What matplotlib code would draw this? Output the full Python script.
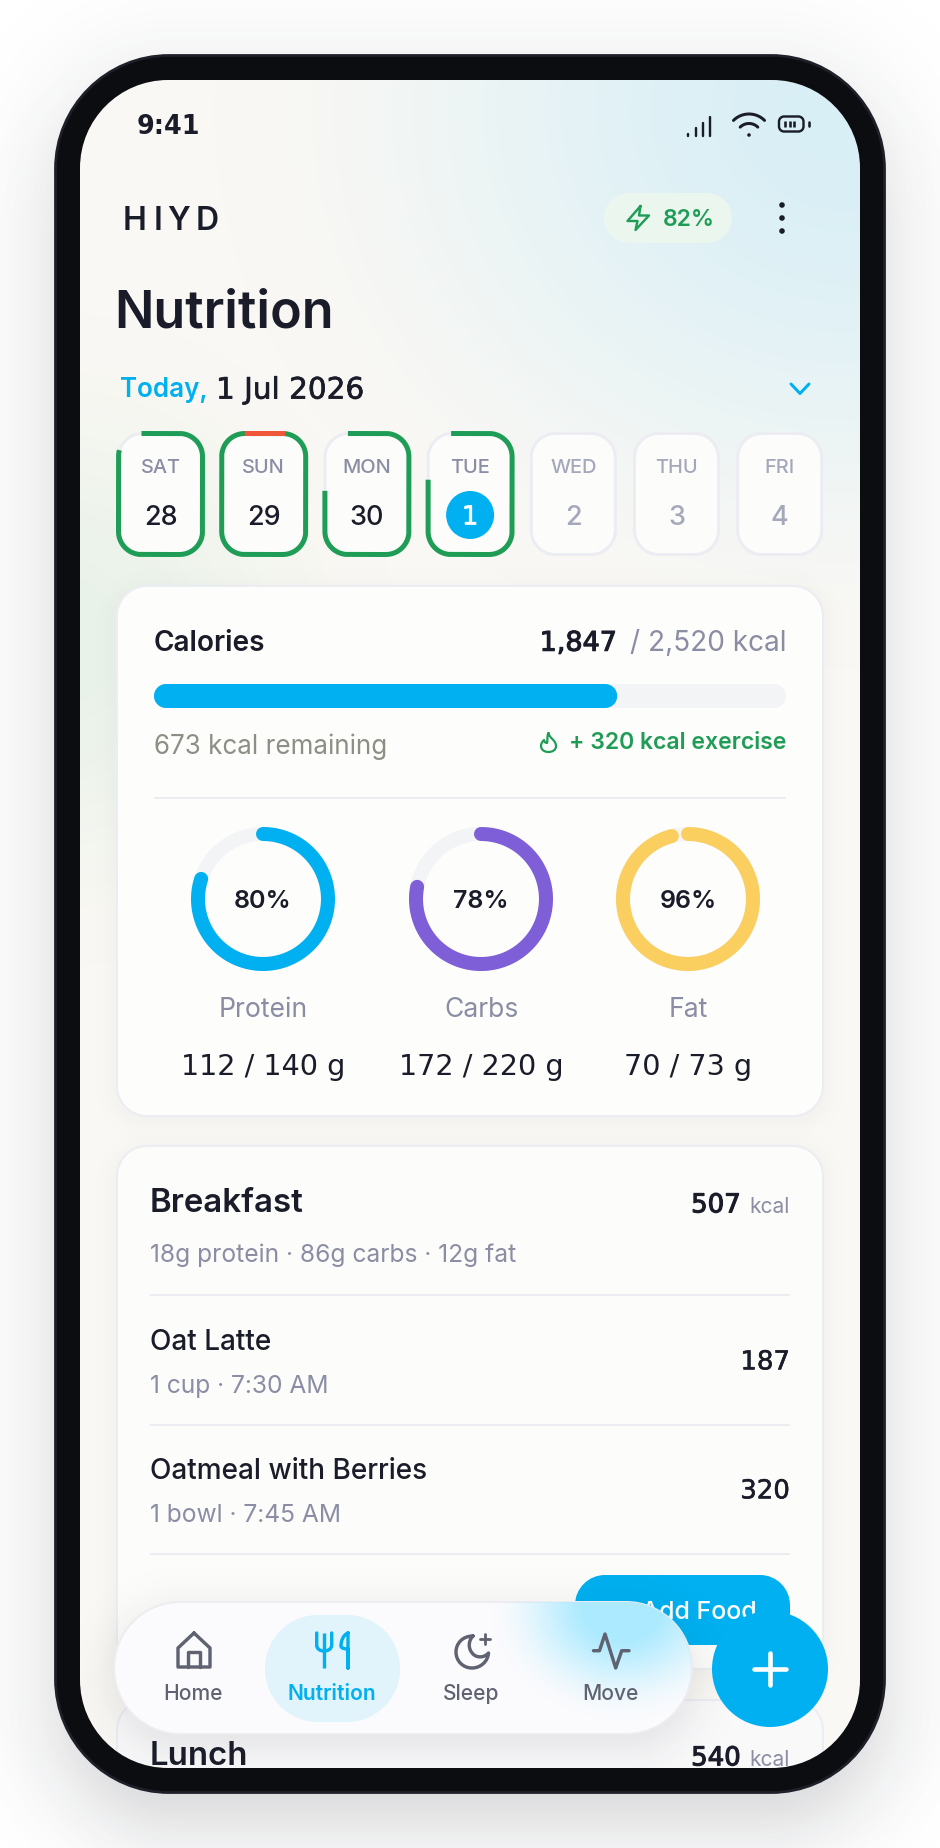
import numpy as np
import matplotlib
matplotlib.use("Agg")
import matplotlib.pyplot as plt
import matplotlib.patheffects as pe
from matplotlib.patches import PathPatch, Circle
from matplotlib.path import Path

plt.rcParams['font.family'] = ['Inter', 'DejaVu Sans']

# data
day_names = ["SAT", "SUN", "MON", "TUE", "WED", "THU", "FRI"]
day_nums = ["28", "29", "30", "1", "2", "3", "4"]
day_progress = [92, 111, 81, 84, 0, 0, 0]
cal_eaten = 1847
cal_goal = 2520
cal_left = 673
cal_burn = 320
macro_names = ["Protein", "Carbs", "Fat"]
macro_eaten = [112, 172, 70]
macro_goal = [140, 220, 73]
macro_pct = [80, 78, 96]
macro_cols = ["#00B0F0", "#7E5FD8", "#FACF60"]
meal_names = ["Oat Latte", "Oatmeal with Berries"]
meal_subs = ["1 cup · 7:30 AM", "1 bowl · 7:45 AM"]
meal_kcal = [187, 320]
nav_names = ["Home", "Nutrition", "Sleep", "Move"]

W, H = 940, 1848
DARK = "#1A1D29"
GREY = "#8A8DA3"
BLUE = "#00B0F0"
GREEN = "#1F9D57"
LINE = "#ECEDF2"
NAVC = "#5F6270"
NUM = ["DejaVu Sans"]  # wide footed digits, nearer the original than Inter's

fig = plt.figure(figsize=(W / 100, H / 100), dpi=100)
ax = fig.add_axes([0, 0, 1, 1])
ax.set_xlim(0, W)
ax.set_ylim(H, 0)
ax.axis("off")

xx, yy = np.meshgrid(np.arange(W) + 0.5, np.arange(H) + 0.5)
xx = xx.astype("float32")
yy = yy.astype("float32")


def rr(x0, y0, x1, y1, r):
    k = 0.5523 * r
    v = [(x0 + r, y0), (x1 - r, y0),
         (x1 - r + k, y0), (x1, y0 + r - k), (x1, y0 + r), (x1, y1 - r),
         (x1, y1 - r + k), (x1 - r + k, y1), (x1 - r, y1), (x0 + r, y1),
         (x0 + r - k, y1), (x0, y1 - r + k), (x0, y1 - r), (x0, y0 + r),
         (x0, y0 + r - k), (x0 + r - k, y0), (x0 + r, y0), (x0 + r, y0)]
    c = [Path.MOVETO, Path.LINETO] + [Path.CURVE4] * 3 + [Path.LINETO] + [Path.CURVE4] * 3 + \
        [Path.LINETO] + [Path.CURVE4] * 3 + [Path.LINETO] + [Path.CURVE4] * 3 + [Path.CLOSEPOLY]
    return Path(v, c)


def box(x0, y0, x1, y1, r, fc, ec="none", lw=0, z=1):
    p = PathPatch(rr(x0, y0, x1, y1, r), fc=fc, ec=ec, lw=lw * 0.72, zorder=z)
    ax.add_patch(p)
    return p


def layer(col, alpha, z, clip=None):
    rgb = matplotlib.colors.to_rgb(col)
    img = np.zeros((H, W, 4), dtype="float32")
    img[..., 0], img[..., 1], img[..., 2] = rgb
    img[..., 3] = alpha
    im = ax.imshow(img, extent=(0, W, H, 0), zorder=z, aspect="auto", interpolation="bilinear")
    if clip is not None:
        im.set_clip_path(clip)
    ax.set_xlim(0, W)
    ax.set_ylim(H, 0)
    return im


def soft(cx, cy, rx, ry):
    t = np.clip(1 - np.hypot((xx - cx) / rx, (yy - cy) / ry), 0, 1)
    return t * t * (3 - 2 * t)


def shadow(x0, y0, x1, y1, r, s, a, dy, z):
    cx, cy = (x0 + x1) / 2, (y0 + y1) / 2 + dy
    qx = np.abs(xx - cx) - (x1 - x0) / 2 + r
    qy = np.abs(yy - cy) - (y1 - y0) / 2 + r
    d = np.hypot(np.maximum(qx, 0), np.maximum(qy, 0)) + np.minimum(np.maximum(qx, qy), 0) - r
    layer("#23252E", a / (1 + np.exp(np.clip(d / s, -30, 30))), z)


def T(x, y, s, size, col=DARK, weight="normal", ha="left", z=3, fam=None, fat=0):
    # y is the middle of the capitals
    t = ax.text(x, y + 0.36 * size, s, fontsize=size * 0.72, color=col, fontweight=weight,
                ha=ha, va="baseline", zorder=z)
    if fam:
        t.set_family(fam)
    if fat:
        t.set_path_effects([pe.withStroke(linewidth=fat, foreground=col)])
    return t


def stroke(pts, col, lw, z=3, closed=False, caps="round"):
    pts = np.array(pts, dtype=float)
    if closed:
        pts = np.vstack([pts, pts[0]])
    ax.plot(pts[:, 0], pts[:, 1], color=col, lw=lw * 0.72, solid_capstyle=caps,
            solid_joinstyle="round", zorder=z)


def curve(verts, col, lw, z=3):
    codes = [Path.MOVETO] + [Path.CURVE4] * (len(verts) - 1)
    p = Path(verts, codes)
    ax.add_patch(PathPatch(p, fc="none", ec=col, lw=lw * 0.72, capstyle="round", joinstyle="round", zorder=z))


def card_line(cx, y0, y1, w, r, n=900):
    # clockwise outline starting where the top edge meets the top-left corner
    x0, x1 = cx - w / 2, cx + w / 2
    a = np.linspace(-np.pi / 2, 0, 60)
    segs = [
        np.c_[np.linspace(x0 + r, x1 - r, 60), np.full(60, y0)],
        np.c_[x1 - r + r * np.cos(a), y0 + r + r * np.sin(a)],
        np.c_[np.full(60, x1), np.linspace(y0 + r, y1 - r, 60)],
        np.c_[x1 - r + r * np.cos(a + np.pi / 2), y1 - r + r * np.sin(a + np.pi / 2)],
        np.c_[np.linspace(x1 - r, x0 + r, 60), np.full(60, y1)],
        np.c_[x0 + r + r * np.cos(a + np.pi), y1 - r + r * np.sin(a + np.pi)],
        np.c_[np.full(60, x0), np.linspace(y1 - r, y0 + r, 60)],
        np.c_[x0 + r + r * np.cos(a - np.pi / 2), y0 + r + r * np.sin(a - np.pi / 2)],
    ]
    pts = np.vstack(segs)
    s = np.r_[0, np.cumsum(np.hypot(*np.diff(pts, axis=0).T))]
    t = np.linspace(0, s[-1], n)
    return np.c_[np.interp(t, s, pts[:, 0]), np.interp(t, s, pts[:, 1])]


# page and phone shadow
shadow(55, 55, 885, 1794, 114, 34, 0.10, 12, 0)
shadow(70, 100, 870, 1800, 114, 26, 0.13, 26, 0)

# screen background
screen = box(80, 80, 860, 1768, 88, "#FAF8F4", z=0.5)
layer("#D8EFF6", soft(850, 110, 660, 580), 0.6, screen)
layer("#E8F2E8", soft(50, 640, 360, 340), 0.6, screen)

# status bar
T(137, 125, "9:41", 25.5, weight="bold", fam=NUM)
for x, top in zip([688, 696, 703, 710], [134, 128, 123, 117]):
    stroke([(x, top), (x, 136)], DARK, 2.4)
a = np.radians(np.linspace(-135, -45, 40))
stroke(np.c_[749 + 22 * np.cos(a), 136 + 22 * np.sin(a)], DARK, 3)
stroke(np.c_[749 + 12.5 * np.cos(a), 136 + 12.5 * np.sin(a)], DARK, 3)
ax.add_patch(Circle((749, 135), 1.8, fc=DARK, zorder=3))
ax.add_patch(PathPatch(rr(779, 116.5, 803.5, 131.5, 5), fc="none", ec=DARK, lw=2.4 * 0.72, zorder=3))
for x in [785, 789.5, 794]:
    stroke([(x, 121), (x, 127)], DARK, 2.6, caps="butt")
stroke([(809, 122), (809, 126)], DARK, 2.6)

# header
for x, c in zip([123, 154, 167, 196], "HIYD"):
    T(x, 218, c, 32, weight="semibold")
box(604, 193, 732, 243, 25, "#EAF6EE", z=2)
stroke([(640.5, 206), (627.5, 221), (637.5, 221), (635.5, 230), (649, 215.5), (639, 215.5)], GREEN, 2.4, closed=True)
T(663, 218, "82%", 23, GREEN, "semibold")
for y in [205, 218, 231]:
    ax.add_patch(Circle((782, y), 2.8, fc=DARK, zorder=3))

T(114, 309, "Nutrition", 52, weight="semibold")
T(120, 388, "Today,", 26, BLUE, "semibold")
T(216, 388, "1 Jul 2026", 29.5, fam=NUM, fat=0.5)
stroke([(791, 384), (800, 393.5), (809, 384)], BLUE, 3)

# day cards
for i in range(7):
    cx = 160.5 + 103.2 * i
    box(cx - 42, 433.5, cx + 42, 554.5, 24, "#FCFCFB", LINE, 3, z=1)
    line = card_line(cx, 433.5, 554.5, 84, 23)
    f = day_progress[i] / 100
    if f > 0:
        end = int(min(f, 1) * (len(line) - 1))
        stroke(line[:end + 1], GREEN, 5, z=2, caps="butt")
    if f > 1:
        end = int((f - 1) * (len(line) - 1))
        stroke(line[:end + 1], "#F0563A", 5, z=2.1, caps="butt")
    future = day_progress[i] == 0
    T(cx, 466, day_names[i], 20, "#A5A8BA" if future else GREY, "medium", ha="center")
    if day_nums[i] == "1":
        ax.add_patch(Circle((cx, 515), 24, fc=BLUE, zorder=2.5))
        T(cx, 515, day_nums[i], 26, "white", ha="center", fam=NUM, fat=0.5)
    else:
        T(cx, 515, day_nums[i], 27, "#A5A8BA" if future else DARK, "medium", ha="center")

# calories card
shadow(117, 586, 823, 1116, 30, 8, 0.05, 4, 0.9)
box(117, 586, 823, 1116, 30, "#FDFDFB", LINE, 2, z=1)
T(154, 641, "Calories", 28, weight="semibold")
T(617, 641, f"{cal_eaten:,}", 27, ha="right", fam=NUM, fat=0.8)
T(786, 641, f"/ {cal_goal:,} kcal", 28, GREY, ha="right")
box(154, 684, 786, 708, 12, "#F3F4F6", z=2)
box(154, 684, 154 + 632 * cal_eaten / cal_goal, 708, 12, BLUE, z=2.2)
T(154, 745, f"{cal_left} kcal remaining", 26, "#8E8E86")
T(786, 741, f"+ {cal_burn} kcal exercise", 23, GREEN, "semibold", ha="right")
curve([(548.5, 733), (549, 738), (556, 740), (556, 746), (556, 750), (552.5, 752), (548.5, 752),
       (544, 752), (541, 749.5), (541, 746), (541, 743), (543, 741), (544, 740), (544.5, 742.5),
       (546, 743), (547, 743), (548, 740), (546.5, 737), (548.5, 733)], GREEN, 2.2)
stroke([(154, 797.5), (786, 797.5)], LINE, 2, caps="butt")

ring_x = [263, 481, 688]
for i in range(3):
    th = np.linspace(0, 2 * np.pi, 200)
    stroke(np.c_[ring_x[i] + 65 * np.sin(th), 899 - 65 * np.cos(th)], "#F3F4F6", 14, z=2)
    th = np.linspace(0, 2 * np.pi * macro_pct[i] / 100, 200)
    stroke(np.c_[ring_x[i] + 65 * np.sin(th), 899 - 65 * np.cos(th)], macro_cols[i], 14, z=2.2)
    T(ring_x[i], 899, f"{macro_pct[i]}%", 25, weight="semibold", ha="center")
    T(ring_x[i], 1007.5, macro_names[i], 26.5, GREY, ha="center")
    T(ring_x[i], 1065, f"{macro_eaten[i]} / {macro_goal[i]} g", 28.6, ha="center", fam=NUM)

# breakfast card
shadow(117, 1146, 823, 1669, 30, 8, 0.05, 4, 0.9)
box(117, 1146, 823, 1669, 30, "#FCFCFA", LINE, 2, z=1)
T(150, 1200, "Breakfast", 33, weight="semibold")
T(741, 1203, "507", 26, ha="right", fam=NUM, fat=0.8)
T(790, 1205, "kcal", 21, GREY, ha="right")
T(150, 1253, "18g protein · 86g carbs · 12g fat", 24.6, GREY)
stroke([(150, 1295), (790, 1295)], LINE, 2, caps="butt")
for i in range(2):
    y = 1340 + 129 * i
    T(150, y, meal_names[i], 28, weight="medium")
    T(150, y + 44, meal_subs[i], 24.6, GREY)
    T(790, y + 20, str(meal_kcal[i]), 26, ha="right", fam=NUM, fat=0.4)
    stroke([(150, y + 85), (790, y + 85)], LINE, 2, caps="butt")

box(575, 1575, 790, 1645, 30, BLUE, z=3)
T(757, 1610, "+ Add Food", 25, "white", "medium", ha="right", z=3.2)

# lunch card, cut by the screen edge
lunch = box(117, 1700, 823, 1900, 30, "#F9F9FA", LINE, 2, z=1)
lunch.set_clip_path(screen)
T(150, 1753, "Lunch", 33, weight="semibold")
T(741, 1756, "540", 26, ha="right", fam=NUM, fat=0.8)
T(790, 1758, "kcal", 21, GREY, ha="right")

# bottom nav
shadow(114, 1602, 692, 1734, 66, 14, 0.12, 12, 4)
nav = box(114, 1602, 692, 1734, 66, "#FBFBFD", "#EDEDF1", 2, z=4.1)
layer("#ABEAFF", np.clip(soft(622, 1606, 135, 118) * 1.25, 0, 1), 4.2, nav)
box(265, 1615, 400, 1722, 53, "#E1F3FB", z=4.3)
nav_x = [193, 332, 471, 610]
for i in range(4):
    col = BLUE if i == 1 else NAVC
    T(nav_x[i], 1692, nav_names[i], 21, col, "semibold" if i == 1 else "medium", ha="center", z=4.5)
stroke([(194, 1633), (178, 1648), (178, 1667), (210, 1667), (210, 1648)], NAVC, 3.4, z=4.5, closed=True)
stroke([(188, 1667), (188, 1652), (200, 1652), (200, 1667)], NAVC, 3.4, z=4.5)
curve([(316.7, 1633), (316.7, 1640), (316.7, 1643), (316.7, 1645), (316.7, 1649), (320, 1651), (324, 1651),
       (328, 1651), (331.7, 1649), (331.7, 1645), (331.7, 1643), (331.7, 1640), (331.7, 1633)], BLUE, 3.4, z=4.5)
stroke([(324, 1633), (324, 1668)], BLUE, 3.4, z=4.5, caps="butt")
curve([(348, 1633), (343, 1635), (341, 1641), (341, 1646), (341, 1648), (344, 1649), (348, 1649),
       (348, 1655), (348, 1662), (348, 1668), (348, 1655), (348, 1644), (348, 1633)], BLUE, 3.4, z=4.5)
curve([(473, 1636), (462, 1636), (456, 1644), (456, 1652), (456, 1661), (463, 1668), (472, 1668),
       (481, 1668), (488, 1661), (488.5, 1653), (484, 1658), (477, 1658), (473, 1654),
       (468, 1649), (468, 1641), (473, 1636)], NAVC, 3.4, z=4.5)
stroke([(485, 1634), (485, 1644)], NAVC, 2.8, z=4.5)
stroke([(480, 1639), (490, 1639)], NAVC, 2.8, z=4.5)
stroke([(593.5, 1650.7), (599.5, 1650.7), (605, 1634), (615.7, 1668), (621.7, 1650.7), (629, 1650.7)], NAVC, 3.4, z=4.5)

# plus button
ax.add_patch(Circle((770, 1669), 58, fc=BLUE, zorder=5))
stroke([(754, 1669), (786, 1669)], "white", 4.6, z=5.2)
stroke([(770, 1653), (770, 1685)], "white", 4.6, z=5.2)

# phone frame on top of everything
outer = rr(55, 55, 885, 1793, 114)
inner = rr(80, 80, 860, 1768, 88)
frame = Path(np.vstack([outer.vertices, inner.vertices[::-1]]),
             np.r_[outer.codes, Path.MOVETO, inner.codes[1:-1], Path.CLOSEPOLY])
ax.add_patch(PathPatch(frame, fc="#0C0D11", ec="none", zorder=8))
ax.add_patch(PathPatch(rr(55.5, 55.5, 884.5, 1792.5, 113.5), fc="none", ec="#1E1F28", lw=2, zorder=8.1))

fig.savefig("out.png", dpi=100)
